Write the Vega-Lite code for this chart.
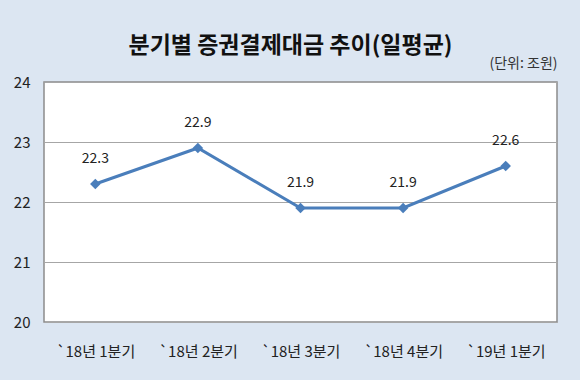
{
  "$schema": "https://vega.github.io/schema/vega-lite/v6.json",
  "autosize": "none",
  "width": 513,
  "height": 240,
  "padding": {"left": 44, "top": 82, "right": 23, "bottom": 58},
  "background": "#DCE6F2",
  "title": {
    "text": "분기별 증권결제대금 추이(일평균)",
    "font": "Noto Sans CJK KR",
    "fontSize": 23,
    "fontWeight": "bold",
    "color": "#111111",
    "anchor": "middle",
    "frame": "group",
    "dx": -10,
    "offset": -2
  },
  "config": {
    "view": {"fill": "white", "stroke": "#8C8C8C", "strokeWidth": 1.5},
    "font": "Noto Sans CJK KR"
  },
  "data": {
    "values": [
      {"q": "`18년 1분기", "v": 22.3},
      {"q": "`18년 2분기", "v": 22.9},
      {"q": "`18년 3분기", "v": 21.9},
      {"q": "`18년 4분기", "v": 21.9},
      {"q": "`19년 1분기", "v": 22.6}
    ]
  },
  "encoding": {
    "x": {
      "field": "q", "type": "ordinal", "sort": null,
      "scale": {"type": "point", "padding": 0.5},
      "axis": {
        "title": null, "labelAngle": 0, "domain": false, "ticks": false,
        "labelPadding": 22, "labelFontSize": 15, "labelColor": "#222222",
        "labelFont": "Noto Sans CJK KR", "grid": false
      }
    },
    "y": {
      "field": "v", "type": "quantitative",
      "scale": {"domain": [20, 24], "nice": false, "zero": false},
      "axis": {
        "values": [20, 21, 22, 23, 24],
        "title": "(단위: 조원)",
        "titleAngle": 0, "titleAlign": "right", "titleBaseline": "middle",
        "titleX": 513, "titleY": -19, "titleFontSize": 14, "titleFontWeight": "normal",
        "titleColor": "#333333",
        "domain": false, "ticks": false, "labelPadding": 14,
        "labelFontSize": 15, "labelColor": "#222222",
        "grid": true, "gridColor": "#A6A6A6", "gridWidth": 1
      }
    }
  },
  "layer": [
    {
      "mark": {"type": "line", "color": "#4A7EBB", "strokeWidth": 3,
        "point": {"shape": "diamond", "size": 110, "filled": true, "color": "#4A7EBB"}}
    },
    {
      "mark": {"type": "text", "dy": -25, "fontSize": 14, "color": "#222222"},
      "encoding": {"text": {"field": "v", "type": "quantitative", "format": ".1f"}}
    }
  ]
}
